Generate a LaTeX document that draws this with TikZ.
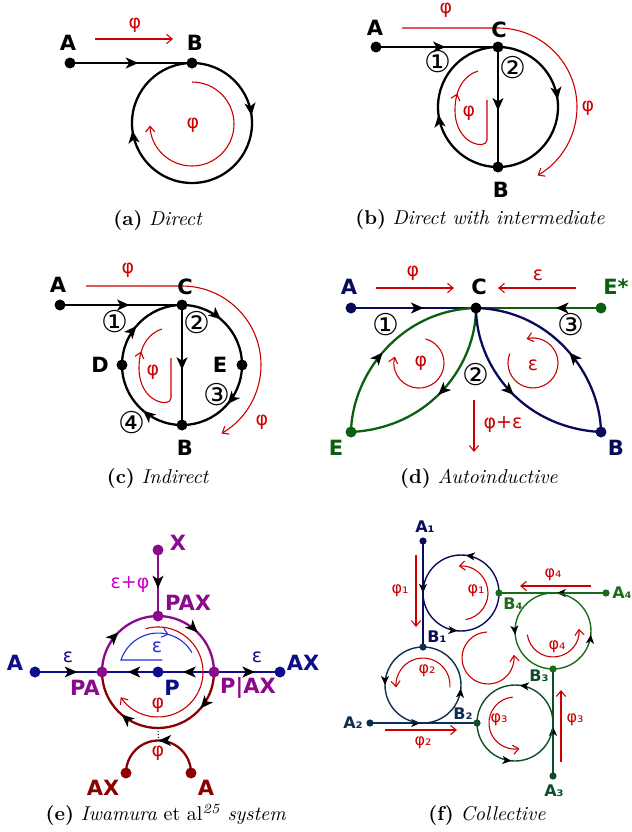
\documentclass[tikz,border=0pt]{standalone}
\usepackage{fontspec}
\usepackage{xcolor}
\usepackage{tikz}
\usetikzlibrary{arrows.meta,decorations.markings,backgrounds}
\newfontfamily\lbl{DejaVu Sans}
\definecolor{fluxred}{HTML}{CC0000}
\definecolor{autonavy}{HTML}{0A0A5A}
\definecolor{autogreen}{HTML}{0B5F10}
\definecolor{iwapurple}{HTML}{8B0A8B}
\definecolor{iwanavy}{HTML}{0C0C8C}
\definecolor{iwared}{HTML}{8B0000}
\definecolor{iwablue}{HTML}{1F30D0}
\definecolor{iwamagenta}{HTML}{CC00CC}
\definecolor{loopone}{HTML}{0B0B5C}
\definecolor{looptwo}{HTML}{0F2E4F}
\definecolor{loopthree}{HTML}{0E4D2A}
\definecolor{loopfour}{HTML}{1B6B1B}

\begin{document}
\begin{tikzpicture}[x=0.5pt,y=-0.5pt,
  dot/.style={circle, fill=#1, inner sep=0pt, minimum size=5.5pt},
  dot/.default=black,
  sdot/.style={circle, fill=#1, inner sep=0pt, minimum size=3.6pt},
  lab/.style={font=\lbl\bfseries\fontsize{10.5}{12}\selectfont, text=#1, inner sep=0pt},
  lab/.default=black,
  slab/.style={font=\lbl\bfseries\fontsize{8}{9}\selectfont, text=#1, inner sep=0pt},
  num/.style={font=\lbl\fontsize{15}{16}\selectfont, inner sep=0pt},
  flux/.style={font=\lbl\fontsize{9.5}{11}\selectfont, text=#1, inner sep=0pt},
  flux/.default=fluxred,
  sflux/.style={font=\lbl\fontsize{8}{9}\selectfont, text=fluxred, inner sep=0pt},
  subcap/.style={font=\fontsize{10}{12}\selectfont, inner sep=0pt},
  wire/.style={draw=#1, line width=1.15pt},
  wire/.default=black,
  fwire/.style={draw=#1, line width=0.7pt},
  flow/.style={postaction={decorate, decoration={markings, mark=at position #1 with {\arrow{Stealth[length=6.2pt,width=5.4pt,inset=1.6pt,color=black]}}}}},
  sflow/.style={postaction={decorate, decoration={markings, mark=at position #1 with {\arrow{Stealth[length=4.5pt,width=4pt,inset=1.2pt,color=black]}}}}},
  fluxmid/.style={postaction={decorate, decoration={markings, mark=at position #1 with {\arrow{Straight Barb[length=2.8pt,width=4.6pt]}}}}},
  fluxarrow/.style={fluxred, line width=0.55pt, -{Straight Barb[length=2.8pt,width=4.6pt]}}
]
\useasboundingbox (0,0) rectangle (632,832);

\node[dot] (a-A) at (70,63) {};
\node[dot] (a-B) at (192,63) {};
\node[lab] (a-Al) at (68,43) {A};
\node[lab] (a-Bl) at (195,43) {B};
\node[flux] (a-f1) at (135,25) {φ};
\node[flux] (a-f2) at (193,125) {φ};
\coordinate (a-p1) at (95,39);
\coordinate (a-p2) at (173,39);
\coordinate (a-q) at (192,82);
\node[subcap] (a-cap) at (158,220) {\textbf{(a)} \textit{Direct}};
\begin{scope}[on background layer]
\draw[wire, flow=0.56] (a-A.center) -- (a-B.center);
\draw[wire, flow=0.46] (a-B.center) arc[start angle=-90, end angle=90, radius=60] coordinate (a-S);
\draw[wire, flow=0.46] (a-S) arc[start angle=90, end angle=270, radius=60];
\draw[fluxarrow] (a-p1) -- (a-p2);
\draw[fluxarrow] (a-q) arc[start angle=-90, end angle=178, radius=42];
\end{scope}

\node[dot] (b-A) at (376,47) {};
\node[dot] (b-C) at (498,47) {};
\node[dot] (b-B) at (498,167) {};
\node[lab] (b-Al) at (375,28) {A};
\node[lab] (b-Cl) at (499,30) {C};
\node[lab] (b-Bl) at (501,190) {B};
\node[num] (b-n1) at (438,62) {①};
\node[num] (b-n2) at (513,68) {②};
\node[flux] (b-f1) at (446,10) {φ};
\node[flux] (b-f2) at (588,108) {φ};
\node[flux] (b-f3) at (469,113) {φ};
\coordinate (b-p1) at (402,28);
\coordinate (b-p2) at (498,28);
\coordinate (b-q) at (487,100);
\node[subcap] (b-cap) at (480,219) {\textbf{(b)} \textit{Direct with intermediate}};
\begin{scope}[on background layer]
\draw[wire, flow=0.57] (b-A.center) -- (b-C.center);
\draw[wire, flow=0.53] (b-C.center) -- (b-B.center);
\draw[wire, flow=0.46] (b-C.center) arc[start angle=-90, end angle=90, radius=60];
\draw[wire, flow=0.46] (b-B.center) arc[start angle=90, end angle=270, radius=60];
\draw[fluxarrow] (b-p1) -- (b-p2) arc[start angle=-90, end angle=60, radius=79];
\draw[fluxred, line width=0.55pt, fluxmid=0.78] (b-q) -- (487,140) .. controls (487,150) and (455,145) .. (455,110) .. controls (455,88) and (465,75) .. (478,71);
\end{scope}

\node[dot] (c-A) at (60,305) {};
\node[dot] (c-C) at (182,305) {};
\node[dot] (c-B) at (182,425) {};
\node[dot] (c-D) at (122,365) {};
\node[dot] (c-E) at (242,365) {};
\node[lab] (c-Al) at (58,285) {A};
\node[lab] (c-Cl) at (185,287) {C};
\node[lab] (c-Dl) at (100,365) {D};
\node[lab] (c-El) at (220,365) {E};
\node[lab] (c-Bl) at (185,448) {B};
\node[num] (c-n1) at (115,322) {①};
\node[num] (c-n2) at (197,323) {②};
\node[num] (c-n3) at (217,395) {③};
\node[num] (c-n4) at (132,423) {④};
\node[flux] (c-f1) at (128,270) {φ};
\node[flux] (c-f2) at (262,422) {φ};
\node[flux] (c-f3) at (153,372) {φ};
\coordinate (c-p1) at (86,286);
\coordinate (c-p2) at (182,286);
\coordinate (c-q) at (171,358);
\node[subcap] (c-cap) at (158,478) {\textbf{(c)} \textit{Indirect}};
\begin{scope}[on background layer]
\draw[wire, flow=0.57] (c-A.center) -- (c-C.center);
\draw[wire, flow=0.54] (c-C.center) -- (c-B.center);
\draw[wire, flow=0.45] (c-C.center) arc[start angle=-90, end angle=0, radius=60];
\draw[wire, flow=0.45] (c-E.center) arc[start angle=0, end angle=90, radius=60];
\draw[wire, flow=0.45] (c-B.center) arc[start angle=90, end angle=180, radius=60];
\draw[wire, flow=0.45] (c-D.center) arc[start angle=180, end angle=270, radius=60];
\draw[fluxarrow] (c-p1) -- (c-p2) arc[start angle=-90, end angle=60, radius=79];
\draw[fluxred, line width=0.55pt, fluxmid=0.78] (c-q) -- (171,398) .. controls (171,408) and (139,403) .. (139,368) .. controls (139,346) and (149,333) .. (162,329);
\end{scope}

\node[dot=autonavy] (d-A) at (351,308) {};
\node[dot] (d-C) at (476,308) {};
\node[dot=autogreen] (d-Es) at (601,308) {};
\node[dot=autogreen] (d-E) at (351,432) {};
\node[dot=autonavy] (d-B) at (601,432) {};
\node[lab=autonavy] (d-Al) at (349,287) {A};
\node[lab] (d-Cl) at (479,287) {C};
\node[lab=autogreen] (d-Esl) at (616,287) {E*};
\node[lab=autogreen] (d-El) at (336,448) {E};
\node[lab=autonavy] (d-Bl) at (616,448) {B};
\node[num] (d-n1) at (386,325) {①};
\node[num] (d-n2) at (476,375) {②};
\node[num] (d-n3) at (571,325) {③};
\node[flux] (d-f1) at (413,273) {φ};
\node[flux] (d-f2) at (538,275) {ε};
\node[flux] (d-f3) at (503,425) {φ+ε};
\node[flux] (d-f4) at (421,363) {φ};
\node[flux] (d-f5) at (533,365) {ε};
\coordinate (d-p1) at (376,288);
\coordinate (d-p2) at (454,288);
\coordinate (d-p3) at (576,288);
\coordinate (d-p4) at (498,288);
\coordinate (d-p5) at (474,400);
\coordinate (d-p6) at (474,452);
\coordinate (d-q1) at (425.5,338.9);
\coordinate (d-q2) at (509.8,353.6);
\node[subcap] (d-cap) at (479,478) {\textbf{(d)} \textit{Autoinductive}};
\begin{scope}[on background layer]
\draw[wire=autonavy, flow=0.58] (d-A.center) -- (d-C.center);
\draw[wire=autogreen, flow=0.36] (d-Es.center) -- (d-C.center);
\draw[wire=autogreen, flow=0.45] (d-E.center) .. controls (352,375) and (400,310) .. (d-C.center);
\draw[wire=autogreen, flow=0.5] (d-C.center) .. controls (476,365) and (430,428) .. (d-E.center);
\draw[wire=autonavy, flow=0.5] (d-C.center) .. controls (476,365) and (522,428) .. (d-B.center);
\draw[wire=autonavy, flow=0.45] (d-B.center) .. controls (600,375) and (552,310) .. (d-C.center);
\draw[fluxarrow] (d-p1) -- (d-p2);
\draw[fluxarrow] (d-p3) -- (d-p4);
\draw[fluxarrow] (d-p5) -- (d-p6);
\draw[fluxarrow] (d-q1) arc[start angle=-75, end angle=195, radius=25];
\draw[fluxarrow] (d-q2) arc[start angle=202, end angle=-105, radius=25];
\end{scope}

\node[dot=iwapurple] (e-X) at (158,550) {};
\node[dot=iwapurple] (e-PAX) at (158,616) {};
\node[dot=iwapurple] (e-PA) at (102,672) {};
\node[dot=iwanavy] (e-P) at (158,672) {};
\node[dot=iwapurple] (e-PbAX) at (214,672) {};
\node[dot=iwanavy] (e-A) at (35,672) {};
\node[dot=iwanavy] (e-AX) at (280,672) {};
\node[dot=iwared] (e-AXb) at (126,773) {};
\node[dot=iwared] (e-Ab) at (191,773) {};
\node[lab=iwapurple] (e-Xl) at (178,543) {X};
\node[lab=iwapurple] (e-PAXl) at (188,603) {PAX};
\node[lab=iwapurple] (e-PAl) at (85,688) {PA};
\node[lab=iwanavy] (e-Pl) at (172,688) {P};
\node[lab=iwapurple] (e-PbAXl) at (248,688) {P|AX};
\node[lab=iwanavy] (e-Al) at (15,663) {A};
\node[lab=iwanavy] (e-AXl) at (303,663) {AX};
\node[lab=iwared] (e-AXbl) at (103,788) {AX};
\node[lab=iwared] (e-Abl) at (206,788) {A};
\node[flux=iwamagenta] (e-f1) at (130,585) {ε+φ};
\node[flux=iwanavy] (e-f2) at (68,657) {ε};
\node[flux=iwanavy] (e-f3) at (257,657) {ε};
\node[flux=iwablue] (e-f4) at (157,647) {ε};
\node[flux] (e-f5) at (158,705) {φ};
\node[flux] (e-f6) at (158,753) {φ};
\coordinate (e-top) at (158.5,740.5);
\coordinate (e-q1) at (162,660);
\coordinate (e-q2) at (145.6,628.7);
\node[subcap] (e-cap) at (166,815) {\textbf{(e)} \textit{Iwamura} et al\textsuperscript{\textit{25}} \textit{system}};
\begin{scope}[on background layer]
\draw[wire=iwapurple, flow=0.58] (e-X.center) -- (e-PAX.center);
\draw[wire=iwanavy, flow=0.63] (e-A.center) -- (e-PA.center);
\draw[wire=iwanavy, flow=0.54] (e-P.center) -- (e-PA.center);
\draw[wire=iwanavy, flow=0.55] (e-PbAX.center) -- (e-P.center);
\draw[wire=iwanavy, flow=0.62] (e-PbAX.center) -- (e-AX.center);
\draw[wire=iwapurple, flow=0.5] (e-PA.center) arc[start angle=180, end angle=270, radius=56];
\draw[wire=iwapurple, flow=0.5] (e-PAX.center) arc[start angle=270, end angle=360, radius=56];
\draw[wire=iwared, flow=0.45] (e-PbAX.center) arc[start angle=0, end angle=90, radius=56] coordinate (e-bot);
\draw[wire=iwared, flow=0.45] (e-bot) arc[start angle=90, end angle=180, radius=56];
\draw[wire=iwared, flow=0.5] (e-Ab.center) arc[start angle=0, end angle=-180, radius=32.5];
\draw[densely dotted, line width=0.5pt] (e-bot) -- (e-top);
\draw[iwablue, line width=0.55pt, fluxmid=0.77] (e-q1) -- (121,660) arc[start angle=198, end angle=330, radius=39];
\draw[fluxarrow] (e-q2) arc[start angle=254, end angle=506, radius=45];
\end{scope}

\node[sdot=loopone] (f-A1) at (423,541) {};
\node[sdot=looptwo] (f-B1) at (423,647) {};
\node[sdot=looptwo] (f-A2) at (370,723) {};
\node[sdot=loopthree] (f-B2) at (477,723) {};
\node[sdot=loopthree] (f-A3) at (553,776) {};
\node[sdot=loopfour] (f-B3) at (553,669) {};
\node[sdot=loopfour] (f-A4) at (606,593) {};
\node[sdot=loopfour] (f-B4) at (499,593) {};
\node[slab=loopone] (f-A1l) at (425,527) {A₁};
\node[slab=loopone] (f-B1l) at (437,637) {B₁};
\node[slab=looptwo] (f-A2l) at (353,723) {A₂};
\node[slab=looptwo] (f-B2l) at (463,714) {B₂};
\node[slab=loopthree] (f-B3l) at (539,676) {B₃};
\node[slab=loopthree] (f-A3l) at (554,791) {A₃};
\node[slab=loopfour] (f-B4l) at (513,604) {B₄};
\node[slab=loopfour] (f-A4l) at (622,593) {A₄};
\node[sflux] (f-f1) at (400,591) {φ₁};
\node[sflux] (f-f2) at (476,591) {φ₁};
\node[sflux] (f-f3) at (427,671) {φ₂};
\node[sflux] (f-f4) at (423,743) {φ₂};
\node[sflux] (f-f5) at (499,720) {φ₃};
\node[sflux] (f-f6) at (575,720) {φ₃};
\node[sflux] (f-f7) at (557,647) {φ₄};
\node[sflux] (f-f8) at (553,575) {φ₄};
\coordinate (f-w1) at (423,593);
\coordinate (f-s2) at (423,723);
\coordinate (f-e3) at (553,723);
\coordinate (f-n4) at (553,593);
\coordinate (f-p1) at (416,555);
\coordinate (f-p2) at (416,627);
\coordinate (f-p3) at (385,730);
\coordinate (f-p4) at (457,730);
\coordinate (f-p5) at (561,762);
\coordinate (f-p6) at (561,690);
\coordinate (f-p7) at (591,586);
\coordinate (f-p8) at (520,586);
\coordinate (f-q1) at (465.7,619.6);
\coordinate (f-q2) at (449.9,687.4);
\coordinate (f-q3) at (512.7,697.1);
\coordinate (f-q4) at (527.3,634.6);
\coordinate (f-q5) at (487.1,632);
\node[subcap] (f-cap) at (487,815) {\textbf{(f)} \textit{Collective}};
\begin{scope}[on background layer]
\draw[fwire=loopone, sflow=0.49] (f-A1.center) -- (f-B1.center);
\draw[fwire=loopone, sflow=0.46] (f-B4.center) arc[start angle=0, end angle=-180, radius=38];
\draw[fwire=loopone, sflow=0.47] (f-w1) arc[start angle=180, end angle=0, radius=38];
\draw[fwire=looptwo, sflow=0.47] (f-A2.center) -- (f-B2.center);
\draw[fwire=looptwo, sflow=0.5] (f-B1.center) arc[start angle=-90, end angle=-270, radius=38];
\draw[fwire=looptwo, sflow=0.47] (f-s2) arc[start angle=90, end angle=-90, radius=38];
\draw[fwire=loopthree, sflow=0.46] (f-A3.center) -- (f-B3.center);
\draw[fwire=loopthree, sflow=0.46] (f-e3) arc[start angle=0, end angle=-180, radius=38];
\draw[fwire=loopthree, sflow=0.47] (f-B2.center) arc[start angle=180, end angle=0, radius=38];
\draw[fwire=loopfour, sflow=0.46] (f-A4.center) -- (f-B4.center);
\draw[fwire=loopfour, sflow=0.53] (f-n4) arc[start angle=-90, end angle=-270, radius=38];
\draw[fwire=loopfour, sflow=0.47] (f-B3.center) arc[start angle=90, end angle=-90, radius=38];
\draw[fluxarrow] (f-p1) -- (f-p2);
\draw[fluxarrow] (f-p3) -- (f-p4);
\draw[fluxarrow] (f-p5) -- (f-p6);
\draw[fluxarrow] (f-p7) -- (f-p8);
\draw[fluxarrow] (f-q1) arc[start angle=80, end angle=-95, radius=27];
\draw[fluxarrow] (f-q2) arc[start angle=5, end angle=-185, radius=27];
\draw[fluxarrow] (f-q3) arc[start angle=-95, end angle=-280, radius=26];
\draw[fluxarrow] (f-q4) arc[start angle=172, end angle=-5, radius=26];
\draw[fluxarrow] (f-q5) arc[start angle=-92, end angle=-367, radius=26];
\end{scope}
\end{tikzpicture}
\end{document}
